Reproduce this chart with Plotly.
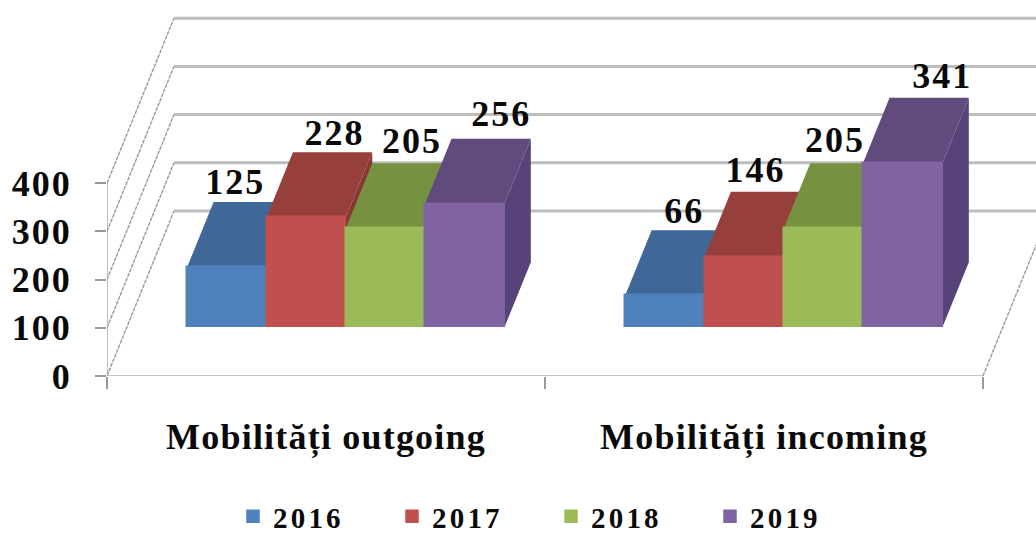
import plotly.graph_objects as go

# ---- data ----
categories = ["Mobilități outgoing", "Mobilități incoming"]
years = ["2016", "2017", "2018", "2019"]
values_2016 = [125, 66]
values_2017 = [228, 146]
values_2018 = [205, 205]
values_2019 = [256, 341]
y_ticks = [0, 100, 200, 300, 400]
series_values = [values_2016, values_2017, values_2018, values_2019]

front_colors = ["#4F81BD", "#C0504D", "#9BBB59", "#8064A2"]
top_colors = ["#3F6797", "#963F3C", "#76913F", "#604A7E"]
side_colors = ["#395C88", "#873835", "#6A8338", "#57437A"]

# hand-placed label nudges in pixels (series by category), as in the reference
label_nudge_x = [[-18, -7], [2, -15], [0, -15], [10, 13]]
label_nudge_y = [[-1, -2], [-2, 1], [1, 2], [4, 1]]

# ---- oblique projection, expressed in axis units ----
PX_PER_CAT = 438.0
PX_PER_VAL = 0.482
DEPTH_X = 67 / PX_PER_CAT          # shift of full depth in category units
DEPTH_Y = 165 / PX_PER_VAL         # shift of full depth in value units
BAR_W = 79.3 / PX_PER_CAT
D_FRONT = 0.297
D_BACK = 0.69
X_MAX = (1036 - 107) / PX_PER_CAT
Y_MAX = 376 / PX_PER_VAL


def proj(x, v, d):
    return x + d * DEPTH_X, v + d * DEPTH_Y


SERIF = "Liberation Serif"
GRID = "#bdbdbd"
fig = go.Figure()


def line(xs, ys, color=GRID, width=1.0, dash="solid"):
    fig.add_trace(go.Scatter(x=xs, y=ys, mode="lines", showlegend=False, hoverinfo="skip",
                             cliponaxis=False, line=dict(color=color, width=width, dash=dash)))


# walls
for t in y_ticks:
    x0, y0 = proj(0, t, 0)
    x1, y1 = proj(0, t, 1)
    line([x0, x1], [y0, y1], color="#9a9a9a", width=1.4, dash="4px,1px")
    line([x1, X_MAX], [y1, y1], color=GRID, width=3)
line([0, 0], [0, y_ticks[-1]], color="#a6a6a6", width=1.5)
line([0, 2], [0, 0], color="#b5b5b5", width=1.5)
x1, y1 = proj(2, 0, 1)
line([2, x1], [0, y1], color="#9a9a9a", width=1.4, dash="4px,1px")

# top and side faces, left to right
n = len(years)
for ci in range(len(categories)):
    left = ci + 0.5 - n * BAR_W / 2
    for si in range(n):
        v = series_values[si][ci]
        xa = left + si * BAR_W
        xb = xa + BAR_W
        pts_top = [proj(xa, v, D_FRONT), proj(xb, v, D_FRONT), proj(xb, v, D_BACK), proj(xa, v, D_BACK)]
        pts_side = [proj(xb, 0, D_FRONT), proj(xb, v, D_FRONT), proj(xb, v, D_BACK), proj(xb, 0, D_BACK)]
        for pts, col in ((pts_side, side_colors[si]), (pts_top, top_colors[si])):
            fig.add_trace(go.Scatter(x=[p[0] for p in pts], y=[p[1] for p in pts], mode="lines",
                                     fill="toself", fillcolor=col, line=dict(width=0),
                                     showlegend=False, hoverinfo="skip"))

# front faces (overlay axes so they sit above every top and side face)
LW = 1.5
for si in range(n):
    xs = [proj(ci + 0.5 - n * BAR_W / 2 + (si + 0.5) * BAR_W, 0, D_FRONT)[0] for ci in range(len(categories))]
    fig.add_trace(go.Bar(x=xs, y=series_values[si], base=D_FRONT * DEPTH_Y, width=BAR_W,
                         name=years[si], xaxis="x2", yaxis="y2",
                         marker=dict(color=front_colors[si], line=dict(color=front_colors[si], width=LW))))

# value labels
lx, ly, lt = [], [], []
for si in range(n):
    for ci in range(len(categories)):
        v = series_values[si][ci]
        x, y = proj(ci + 0.5 - n * BAR_W / 2 + (si + 0.5) * BAR_W, v, D_BACK)
        lx.append(x + label_nudge_x[si][ci] / PX_PER_CAT)
        ly.append(y + label_nudge_y[si][ci] / PX_PER_VAL)
        lt.append(str(v))
fig.add_trace(go.Scatter(x=lx, y=ly, text=lt, mode="text", textposition="top center",
                         xaxis="x2", yaxis="y2", showlegend=False, hoverinfo="skip", cliponaxis=False,
                         textfont=dict(family=SERIF, size=36, color="#0a0a0a", weight="bold")))

fig.update_layout(
    width=1036, height=535, autosize=False,
    paper_bgcolor="white", plot_bgcolor="white",
    margin=dict(l=107, r=0, t=0, b=159),
    barmode="overlay", bargap=0,
    font=dict(family=SERIF, size=31, color="#0a0a0a", weight="bold"),
    xaxis=dict(range=[0, X_MAX], showgrid=False, zeroline=False, showline=False,
               tickmode="array", tickvals=[0.5, 1.5], ticktext=categories, ticks="", ticklen=0,
               ticklabelstandoff=36, tickfont=dict(family=SERIF, size=36, color="#0a0a0a", weight="bold"),
               minor=dict(tickmode="array", tickvals=[0, 1, 2], ticks="outside", ticklen=12,
                          tickcolor="#9a9a9a", tickwidth=1.5, showgrid=False)),
    yaxis=dict(range=[0, Y_MAX], showgrid=False, zeroline=False, showline=False,
               tickmode="array", tickvals=y_ticks, ticks="outside", ticklen=11, tickcolor="#9a9a9a",
               tickwidth=1.5, ticklabelstandoff=16,
               tickfont=dict(family=SERIF, size=36, color="#0a0a0a", weight="bold")),
    xaxis2=dict(range=[0, X_MAX], overlaying="x", visible=False, matches="x"),
    yaxis2=dict(range=[0, Y_MAX], overlaying="y", visible=False, matches="y"),
    legend=dict(orientation="h", xref="container", yref="container",
                x=(247 - 14) / 1036, xanchor="left", y=(535 - 491) / 535, yanchor="top",
                entrywidth=114, entrywidthmode="pixels", bgcolor="rgba(0,0,0,0)",
                font=dict(family=SERIF, size=29, color="#0a0a0a", weight="bold"),
                itemclick=False, itemdoubleclick=False),
    showlegend=True,
)

STYLE = """
var s = document.createElement('style');
s.textContent = 'html,body{margin:0;padding:0;overflow:hidden}'
  + '.xtick text{letter-spacing:1.2px}'
  + '.ytick text{letter-spacing:2px}'
  + '.legendtext{letter-spacing:3.2px}'
  + '.textpoint text{letter-spacing:2px}';
document.head.appendChild(s);
"""
fig.write_html("out.html", config=dict(displayModeBar=False), post_script=STYLE)
